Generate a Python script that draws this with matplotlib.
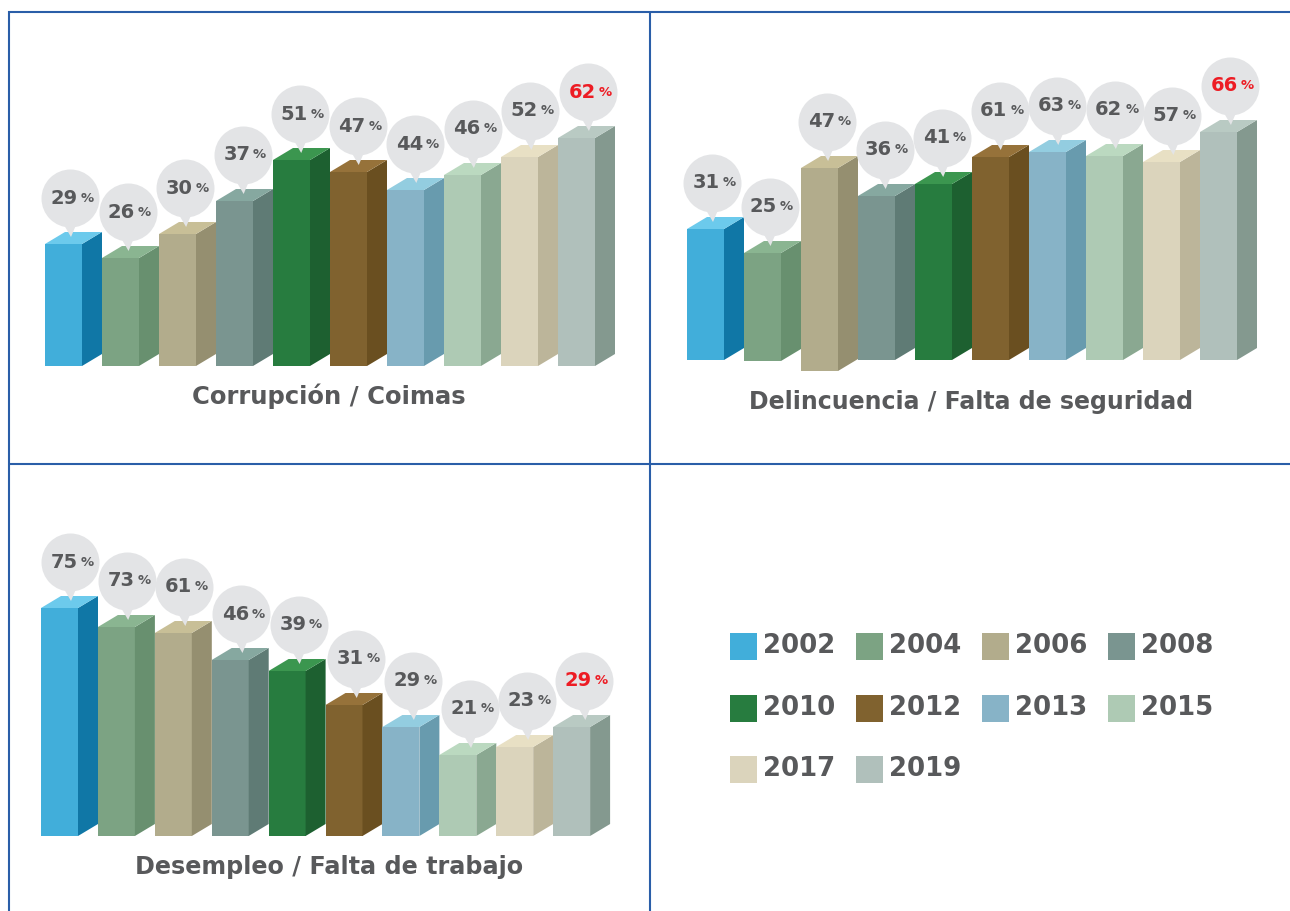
#!/usr/bin/env python
import matplotlib
matplotlib.use('Agg')
import matplotlib.pyplot as plt
from matplotlib.patches import Polygon, Rectangle

W, H = 1290, 911
plt.rcParams['font.family'] = 'DejaVu Sans'

years = ['2002', '2004', '2006', '2008', '2010', '2012', '2013', '2015', '2017', '2019']
front = ['#41aeda', '#7ca383', '#b2ac8c', '#7a9590', '#277c3f', '#80622f', '#87b3c7', '#aecab4', '#dbd4bc', '#b0c0bb']
side = ['#1077a6', '#68906f', '#958f70', '#5f7b75', '#1d6030', '#6a4f20', '#689bae', '#8aa891', '#bcb59a', '#84998f']
top = ['#6ccaec', '#8ab591', '#c8bf97', '#86a8a0', '#3b964f', '#96723a', '#93cde0', '#bbd9c0', '#e8e0c4', '#b9cac3']

# printed percentages
labels_corrupcion = [29, 26, 30, 37, 51, 47, 44, 46, 52, 62]
labels_delincuencia = [31, 25, 47, 36, 41, 61, 63, 62, 57, 66]
labels_desempleo = [75, 73, 61, 46, 39, 31, 29, 21, 23, 29]

# drawn bar heights, they are not quite proportional to the labels
height_corrupcion = [122, 108, 132, 165, 206, 194, 176, 191, 209, 228]
height_delincuencia = [131, 107, 192, 164, 176, 203, 208, 204, 198, 228]
height_desempleo = [228, 209, 203, 176, 165, 131, 109, 81, 89, 109]
bottom_delincuencia = [0, -1, -11, 0, 0, 0, 0, 0, 0, 0]

INK = '#58595b'
RED = '#ed1c24'
BUBBLE = '#e3e4e6'
LINE = '#2a5ea8'
DY = 12

fig = plt.figure(figsize=(W / 100, H / 100), dpi=100, facecolor='white')

# page layer in pixels: frame, titles, legend
bg = fig.add_axes([0, 0, 1, 1])
bg.set_xlim(0, W)
bg.set_ylim(H, 0)
bg.axis('off')
bg.plot([8, W], [11.5, 11.5], color=LINE, lw=1.5, solid_capstyle='butt')
bg.plot([8, W], [464, 464], color=LINE, lw=1.5, solid_capstyle='butt')
bg.plot([8.5, 8.5], [11, H], color=LINE, lw=1.5, solid_capstyle='butt')
bg.plot([650, 650], [11, H], color=LINE, lw=1.5, solid_capstyle='butt')


def panel(left, base, values, labels, bottoms=None, pitch=57.0, start=25, drift=0.55):
    ax = fig.add_axes([0, 0, 1, 1], facecolor='none')
    ax.set_xlim(-left / pitch, (W - left) / pitch)
    ax.set_ylim(base - H, base)
    ax.axis('off')
    bar_w = 37 / pitch
    dx = 20 / pitch
    if bottoms is None:
        bottoms = [0] * len(values)
    for i, v in enumerate(values):
        b = bottoms[i]
        ax.bar(i, v - b, bottom=b, width=bar_w, align='edge', color=front[i], lw=0, zorder=2)
        r = i + bar_w
        ax.add_patch(Polygon([(r, b), (r + dx, b + DY), (r + dx, v + DY), (r, v)], color=side[i], lw=0, zorder=2))
        ax.add_patch(Polygon([(i, v), (i + dx, v + DY), (r + dx, v + DY), (r, v)], color=top[i], lw=0, zorder=2))
    for i, v in enumerate(values):
        cx = i + (start + drift * i) / pitch
        ax.scatter([cx], [v + 46], s=(58 * 0.72) ** 2, color=BUBBLE, lw=0, zorder=3 + i)
        ax.add_patch(Polygon([(cx - 6 / pitch, v + 19), (cx + 6 / pitch, v + 19), (cx + 1 / pitch, v + 7)],
                             color=BUBBLE, lw=0, zorder=3 + i))
        col = RED if i == len(values) - 1 else INK
        ax.annotate(str(labels[i]), (cx, v + 46), xytext=(5.5, 0), textcoords='offset points', ha='right',
                    va='center', color=col, fontsize=14, fontweight='bold', zorder=3 + i)
        ax.annotate('%', (cx, v + 46), xytext=(7.5, 0), textcoords='offset points', ha='left',
                    va='center', color=col, fontsize=9.5, fontweight='bold', zorder=3 + i)


panel(45, 366, height_corrupcion, labels_corrupcion)
panel(687, 360, height_delincuencia, labels_delincuencia, bottom_delincuencia)
panel(41, 836, height_desempleo, labels_desempleo, pitch=56.9, start=29, drift=0.25)

bg.text(329, 396, 'Corrupción / Coimas', ha='center', va='center', color=INK, fontsize=17.5, fontweight='bold')
bg.text(971, 402, 'Delincuencia / Falta de seguridad', ha='center', va='center', color=INK, fontsize=17, fontweight='bold')
bg.text(329, 867, 'Desempleo / Falta de trabajo', ha='center', va='center', color=INK, fontsize=17.2, fontweight='bold')

# legend, 4 per row
legend_x = [730, 856, 982, 1108]
legend_y = [633, 695, 756]
for i, y in enumerate(years):
    lx = legend_x[i % 4]
    ly = legend_y[i // 4]
    bg.add_patch(Rectangle((lx, ly), 27, 27, color=front[i], lw=0))
    bg.text(lx + 33, ly + 13, y, ha='left', va='center', color=INK, fontsize=18.7, fontweight='bold')

fig.savefig('out.png', dpi=100)
